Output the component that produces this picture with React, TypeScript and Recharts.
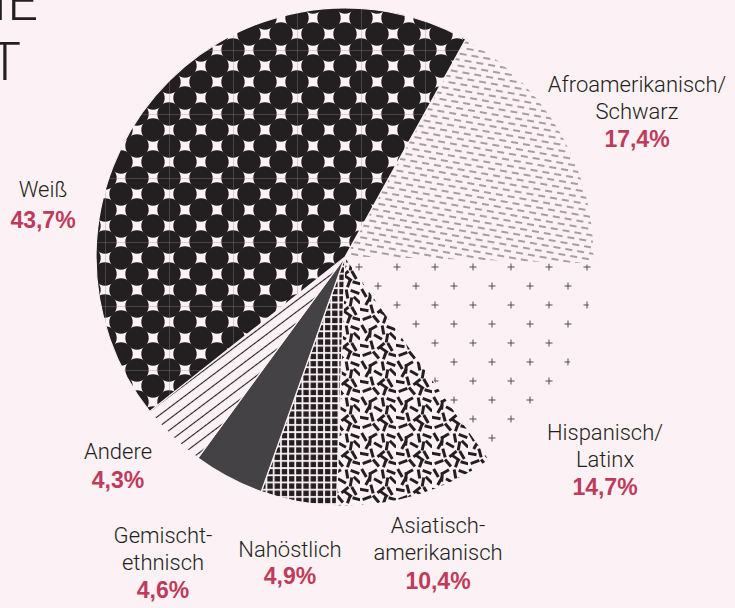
import { PieChart, Pie, Cell } from 'recharts';

const categories = [
  'Afroamerikanisch/\nSchwarz',
  'Hispanisch/\nLatinx',
  'Asiatisch-\namerikanisch',
  'Nahöstlich',
  'Gemischt-\nethnisch',
  'Andere',
  'Weiß',
];
const shares = [17.4, 14.7, 10.4, 4.9, 4.6, 4.3, 43.7];

const data = categories.map((name, i) => ({ name, value: shares[i] }));

const BG = '#fcf1f4';
const INK = '#231f20';
const ACCENT = '#be3b5b';
const FONT = 'Roboto, "Liberation Sans", sans-serif';
const PCT_FONT = '"Liberation Sans", Arial, sans-serif';

const fills = [
  'url(#pat-dash)',
  'url(#pat-plus)',
  'url(#pat-confetti)',
  'url(#pat-grid)',
  '#444244',
  'url(#pat-hatch)',
  'url(#pat-dots)',
];

// label anchor: centre x, baseline of first line
const labelPos = [
  { x: 637, y: 92, gap: 28 },
  { x: 605, y: 440, gap: 28 },
  { x: 438, y: 533, gap: 29 },
  { x: 290, y: 557, gap: 27 },
  { x: 163, y: 543, gap: 28 },
  { x: 118, y: 459, gap: 29 },
  { x: 43, y: 197, gap: 31 },
];

// confetti strokes inside a 36x36 tile: x, y, angle
const confetti = [
  [4, 5, 60], [13, 4, -30], [23, 6, 80], [31, 4, 20],
  [8, 13, -60], [18, 13, 30], [27, 14, -80], [33, 12, 45],
  [4, 22, 10], [12, 21, 75], [21, 22, -40], [30, 23, 60],
  [7, 30, -20], [16, 31, 50], [25, 31, -70], [33, 31, 15],
  [10, 9, -85], [24, 26, 35],
];

function Patterns() {
  return (
    <svg width={0} height={0} style={{ position: 'absolute' }}>
      <defs>
        <pattern id="pat-dots" patternUnits="userSpaceOnUse" x={41} y={50} width={64} height={64}>
          {[0, 32, 64].map((x) =>
            [0, 32, 64].map((y) => <circle key={`${x}-${y}`} cx={x} cy={y} r={11.7} fill={INK} />)
          )}
          {[16, 48].map((x) =>
            [16, 48].map((y) => <circle key={`c${x}-${y}`} cx={x} cy={y} r={11.7} fill={INK} />)
          )}
          <line x1={0} y1={0} x2={64} y2={0} stroke="#8d8a8c" strokeWidth={0.7} />
          <line x1={0} y1={0} x2={0} y2={64} stroke="#8d8a8c" strokeWidth={0.7} />
        </pattern>
        <pattern
          id="pat-dash"
          patternUnits="userSpaceOnUse"
          width={12}
          height={12}
          patternTransform="rotate(10)"
        >
          <path d="M0 3h7M6 9h7M-6 9h7" stroke="#4f4c4e" strokeWidth={1.1} />
        </pattern>
        <pattern id="pat-plus" patternUnits="userSpaceOnUse" x={7.5} y={-8.5} width={38} height={38}>
          <path
            d="M6 9.5h7M9.5 6v7M25 28.5h7M28.5 25v7"
            stroke="#4f4c4e"
            strokeWidth={1}
          />
        </pattern>
        <pattern id="pat-confetti" patternUnits="userSpaceOnUse" width={36} height={36}>
          {confetti.map(([x, y, a], i) => (
            <line
              key={i}
              x1={x - 4.6}
              y1={y}
              x2={x + 4.6}
              y2={y}
              stroke={INK}
              strokeWidth={3}
              transform={`rotate(${a} ${x} ${y})`}
            />
          ))}
        </pattern>
        <pattern id="pat-grid" patternUnits="userSpaceOnUse" width={7.2} height={7.2}>
          <rect x={1} y={1} width={5.4} height={5.4} fill={INK} />
        </pattern>
        <pattern
          id="pat-hatch"
          patternUnits="userSpaceOnUse"
          width={9}
          height={9}
          patternTransform="rotate(-37)"
        >
          <line x1={0} y1={4.5} x2={9} y2={4.5} stroke={INK} strokeWidth={1.1} />
        </pattern>
      </defs>
    </svg>
  );
}

function renderLabel(props: any) {
  const { index, name, value } = props;
  const pos = labelPos[index];
  const lines = String(name).split('\n');
  const pct = `${Number(value).toFixed(1).replace('.', ',')}%`;
  return (
    <g key={`lbl-${index}`}>
      <text
        x={pos.x}
        y={pos.y}
        textAnchor="middle"
        fontFamily={FONT}
        fontWeight={300}
        fontSize={22}
        fill={INK}
      >
        {lines.map((l, i) => (
          <tspan key={i} x={pos.x} y={pos.y + i * 27}>
            {l}
          </tspan>
        ))}
      </text>
      <text
        x={pos.x}
        y={pos.y + (lines.length - 1) * 27 + pos.gap}
        textAnchor="middle"
        fontFamily={PCT_FONT}
        fontWeight={700}
        fontSize={23}
        fill={ACCENT}
      >
        {pct}
      </text>
    </g>
  );
}

export default function App() {
  return (
    <div
      style={{
        position: 'absolute',
        left: 0,
        top: 0,
        width: 735,
        height: 608,
        background: BG,
        overflow: 'hidden',
      }}
    >
      <Patterns />
      <svg
        width={735}
        height={608}
        style={{ position: 'absolute', left: 0, top: 0 }}
      >
        <text x={38} y={20} textAnchor="end" fontFamily={FONT} fontWeight={300} fontSize={54} fill={INK}>
          IE
        </text>
        <text x={21} y={80} textAnchor="end" fontFamily={FONT} fontWeight={300} fontSize={54} fill={INK}>
          T
        </text>
      </svg>
      <PieChart
        width={735}
        height={608}
        margin={{ top: 0, right: 0, bottom: 0, left: 0 }}
        style={{ position: 'absolute', left: 0, top: 0 }}
      >
        <Pie
          data={data}
          dataKey="value"
          nameKey="name"
          cx={345}
          cy={257}
          innerRadius={0}
          outerRadius={249}
          startAngle={61}
          endAngle={-299}
          stroke={BG}
          strokeWidth={1.2}
          label={renderLabel}
          labelLine={false}
          isAnimationActive={false}
        >
          {data.map((d, i) => (
            <Cell key={d.name} fill={fills[i]} />
          ))}
        </Pie>
      </PieChart>
    </div>
  );
}
